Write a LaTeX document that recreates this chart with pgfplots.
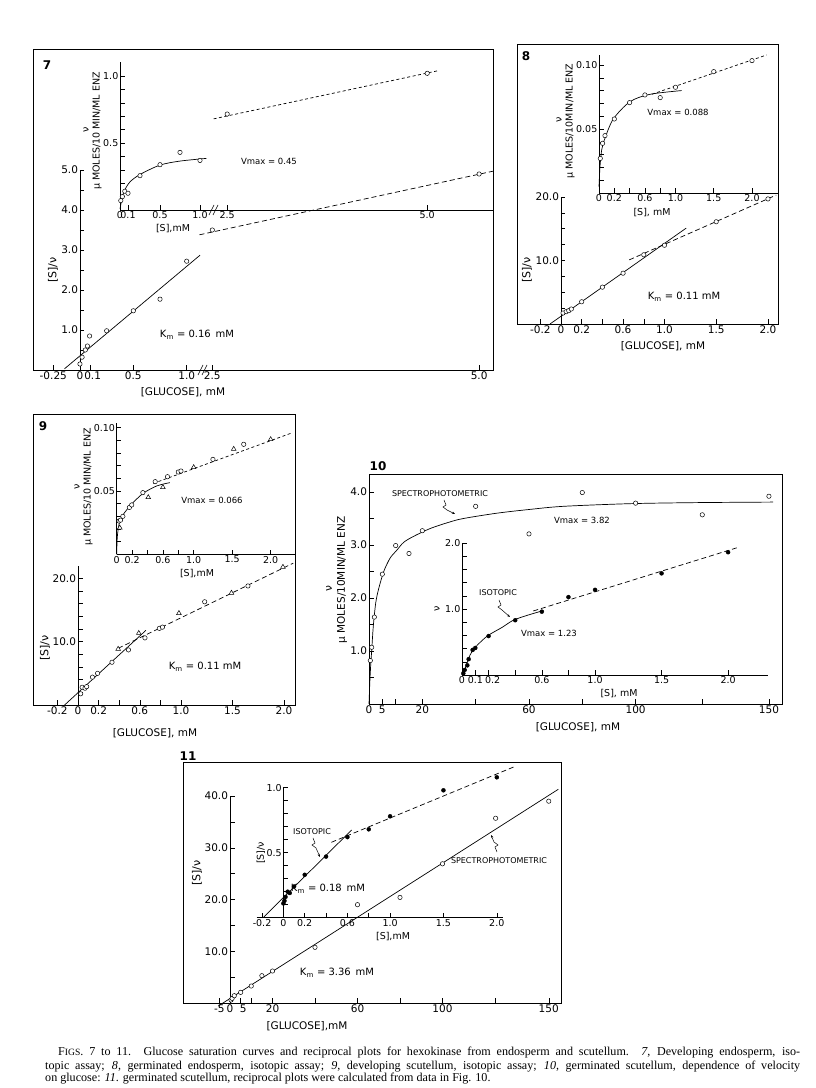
\documentclass[border=0pt]{standalone}
\usepackage{fontspec}
\setmainfont{DejaVu Sans}
\newfontfamily\capfont{Liberation Serif}
\usepackage{pgfplots}
\pgfplotsset{compat=1.18}
\usetikzlibrary{arrows.meta}
\newcommand\tlf{\fontsize{10.5}{11}\selectfont}
\newcommand\itf{\fontsize{9.5}{10}\selectfont}
\newcommand\axf{\fontsize{10.5}{11}\selectfont}
\newcommand\ilf{\fontsize{9.5}{10}\selectfont}
\newcommand\ylf{\fontsize{11}{12}\selectfont}
\newcommand\smf{\fontsize{8}{9}\selectfont}
\newcommand\vmf{\fontsize{8.5}{10}\selectfont}
\newcommand\kmf{\fontsize{10}{11}\selectfont}
\newcommand\numf{\fontsize{12}{12}\selectfont\bfseries}
\pgfplotsset{
  base/.style={scale only axis, clip=false, enlargelimits=false, anchor=south west,
    tick style={black, line width=0.5pt},
    major tick length=4.5pt, minor tick length=4.5pt,
    tick label style={font=\tlf, inner sep=1.8pt},
    hide obscured x ticks=false, hide obscured y ticks=false},
  inset/.style={tick label style={font=\itf, inner sep=1.5pt}},
  noarrow/.style={axis line style={-, line width=0.6pt}, tick align=inside},
  cut/.style={axis x line=bottom, axis y line=center},
  lft/.style={axis lines=left},
  pts/.style={only marks, mark=*, mark size=2.2pt, mark options={fill=white, draw=black, line width=0.5pt, solid}},
  dots/.style={only marks, mark=*, mark size=2pt, mark options={fill=black, draw=black, solid}},
  tris/.style={only marks, mark=triangle*, mark size=2.7pt, mark options={fill=white, draw=black, line width=0.5pt, solid}},
  fit/.style={no marks, line width=0.7pt, black},
  cfit/.style={no marks, line width=0.7pt, black, smooth},
  dfit/.style={no marks, line width=0.7pt, black, dash pattern=on 5pt off 3pt},
  sdfit/.style={no marks, line width=0.7pt, black, dash pattern=on 3pt off 2.5pt},
}
\begin{document}
\begin{tikzpicture}[x=1pt,y=1pt]
\path[use as bounding box] (0,0) rectangle (816,1088);

% ---------------- Panel 7 ----------------
\draw[line width=0.7pt] (33,718) rectangle (493,1039);
\begin{axis}[base, cut, noarrow, at={(33pt,718pt)}, width=460pt, height=200pt,
  xmin=-0.44, xmax=3.87, ymin=0, ymax=5,
  xtick={-0.25,0,0.1,0.5,1.0,1.24,3.74}, xticklabels={-0.25,0\hspace{2pt},\hspace{4pt}0.1,0.5,1.0,2.5,5.0},
  ytick={1,2,3,4,5}, yticklabels={1.0,2.0,3.0,4.0,5.0}, minor ytick={0.5,1.5,2.5,3.5,4.5}]
\addplot[fit] coordinates {(-0.145,0.03) (1.125,2.87)};
\addplot[dfit] coordinates {(1.12,3.38) (3.87,4.97)};
\addplot[pts] coordinates {(0,0.15) (0.02,0.32) (0.05,0.5) (0.07,0.6) (0.09,0.85) (0.25,0.98) (0.5,1.48) (0.75,1.77) (1.0,2.72) (1.24,3.5) (3.74,4.9)};
\end{axis}
\begin{axis}[base, inset, lft, noarrow, at={(120pt,878pt)}, width=373pt, height=148pt,
  xmin=0, xmax=4.6625, ymin=0, ymax=1.1045,
  xtick={0,0.1,0.5,1.0,1.34,3.84}, xticklabels={0\hspace{12pt},0.1\hspace{6pt},0.5,1.0,2.5,5.0},
  ytick={0.5,1.0}, yticklabels={0.5,1.0}, minor ytick={0.1,0.2,0.3,0.4,0.6,0.7,0.8,0.9}]
\addplot[cfit] coordinates {(0,0.01) (0.01,0.04) (0.03,0.1) (0.06,0.15) (0.125,0.21) (0.25,0.265) (0.5,0.335) (0.75,0.365) (1.08,0.385)};
\addplot[sdfit] coordinates {(1.17,0.68) (3.98,1.04)};
\addplot[pts] coordinates {(0.01,0.07) (0.03,0.10) (0.06,0.14) (0.10,0.125) (0.25,0.256) (0.5,0.338) (0.75,0.43) (1.0,0.37) (1.34,0.716) (3.84,1.02)};
\end{axis}
\draw[line width=0.6pt] (198,713) -- (203,723) (202,713) -- (207,723);
\draw[line width=0.6pt] (209,873) -- (214,883) (213,873) -- (218,883);
\node[font=\numf] at (47,1023) {7};
\node[font=\ylf, rotate=90] at (53,818) {[S]/ν};
\node[font=\axf] at (183,696) {[GLUCOSE], mM};
\node[font=\ilf, rotate=90] at (86,958) {ν};
\node[font=\ilf, rotate=90] at (97,957) {μ MOLES/10 MIN/ML ENZ};
\node[font=\ilf] at (173,859) {[S],mM};
\node[font=\vmf] at (269,927) {Vmax = 0.45};
\node[font=\kmf] at (197,753) {K\textsubscript{m} = 0.16\, mM};

% ---------------- Panel 8 ----------------
\draw[line width=0.7pt] (517,764) rectangle (778,1044);
\begin{axis}[base, cut, noarrow, at={(517pt,764pt)}, width=261pt, height=127pt,
  xmin=-0.425, xmax=2.097, ymin=0, ymax=20,
  xtick={-0.2,0,0.2,0.4,0.6,0.8,1.0,1.5,2.0}, xticklabels={-0.2,0,0.2,,0.6,,1.0,1.5,2.0},
  ytick={10,20}, yticklabels={10.0,20.0}, minor ytick={2.5,5,7.5,12.5,15,17.5}]
\addplot[fit] coordinates {(-0.106,0) (1.21,15.1)};
\addplot[dfit] coordinates {(0.66,10.1) (2.08,20.3)};
\addplot[pts] coordinates {(0.02,1.73) (0.05,1.94) (0.075,2.1) (0.1,2.36) (0.2,3.5) (0.4,5.8) (0.6,8.0) (0.8,10.9) (1.0,12.4) (1.5,16.1) (2.0,19.7)};
\end{axis}
\begin{axis}[base, inset, lft, noarrow, at={(599pt,895pt)}, width=179pt, height=138pt,
  xmin=0, xmax=2.34, ymin=0, ymax=0.1078,
  xtick={0,0.2,0.4,0.6,0.8,1.0,1.5,2.0}, xticklabels={0\hspace{12pt},0.2,,0.6,,1.0,1.5,2.0},
  ytick={0.05,0.1}, yticklabels={0.05,0.10}, minor ytick={0.01,0.02,0.03,0.04,0.06,0.07,0.08,0.09}]
\addplot[cfit] coordinates {(0,0.005) (0.013,0.0206) (0.035,0.0336) (0.078,0.0427) (0.187,0.0578) (0.405,0.0713) (0.667,0.0771) (1.08,0.080)};
\addplot[sdfit] coordinates {(0.69,0.0771) (2.19,0.1078)};
\addplot[pts] coordinates {(0.017,0.027) (0.047,0.0388) (0.078,0.0448) (0.2,0.0578) (0.4,0.0706) (0.6,0.0766) (0.8,0.0745) (1.0,0.0826) (1.5,0.0948) (2.0,0.1034)};
\end{axis}
\node[font=\numf] at (526,1032) {8};
\node[font=\ylf, rotate=90] at (527,818) {[S]/ν};
\node[font=\axf] at (663,742) {[GLUCOSE], mM};
\node[font=\ilf, rotate=90] at (559,968) {ν};
\node[font=\ilf, rotate=90] at (570,967) {μ MOLES/10MIN/ML ENZ};
\node[font=\ilf] at (652,875) {[S], mM};
\node[font=\vmf] at (678,976) {Vmax = 0.088};
\node[font=\kmf] at (684,791) {K\textsubscript{m} = 0.11 mM};

% ---------------- Panel 9 ----------------
\draw[line width=0.7pt] (33,383) rectangle (295,674);
\begin{axis}[base, cut, noarrow, at={(33pt,383pt)}, width=262pt, height=139.3pt,
  xmin=-0.437, xmax=2.107, ymin=0, ymax=22,
  xtick={-0.2,0,0.2,0.4,0.6,0.8,1.0,1.5,2.0}, xticklabels={-0.2,0,0.2,,0.6,,1.0,1.5,2.0},
  ytick={10,20}, yticklabels={10.0,20.0}, minor ytick={2,4,6,8,12,14,16,18}]
\addplot[fit] coordinates {(-0.13,0) (0.66,11.8)};
\addplot[dfit] coordinates {(0.39,8.95) (2.09,22.4)};
\addplot[pts] coordinates {(0.026,1.77) (0.04,2.8) (0.068,2.65) (0.084,2.9) (0.14,4.4) (0.19,5.0) (0.33,6.75) (0.49,8.7) (0.65,10.6) (0.79,12.1) (0.82,12.3) (1.23,16.3) (1.65,18.8)};
\addplot[tris] coordinates {(0.39,8.85) (0.59,11.35) (0.98,14.5) (1.49,17.7) (1.99,21.8)};
\end{axis}
\begin{axis}[base, inset, lft, noarrow, at={(116.7pt,533.7pt)}, width=178.3pt, height=131pt,
  xmin=0, xmax=2.316, ymin=0, ymax=0.1035,
  xtick={0,0.2,0.4,0.6,0.8,1.0,1.5,2.0}, xticklabels={0\hspace{12pt},0.2,,0.6,,1.0,1.5,2.0},
  ytick={0.05,0.1}, yticklabels={0.05,0.10}, minor ytick={0.01,0.02,0.03,0.04,0.06,0.07,0.08,0.09}]
\addplot[cfit] coordinates {(0,0) (0.008,0.0139) (0.034,0.0245) (0.087,0.0316) (0.195,0.0397) (0.345,0.0482) (0.52,0.054) (0.69,0.0566)};
\addplot[sdfit] coordinates {(0.475,0.056) (2.28,0.096)};
\addplot[pts] coordinates {(0.03,0.0263) (0.05,0.027) (0.08,0.030) (0.165,0.037) (0.195,0.039) (0.34,0.0487) (0.5,0.0574) (0.66,0.0613) (0.8,0.065) (0.835,0.0658) (1.25,0.075) (1.65,0.0869)};
\addplot[tris] coordinates {(0.04,0.021) (0.41,0.045) (0.6,0.053) (1.0,0.0687) (1.52,0.0832) (2.0,0.0908)};
\end{axis}
\node[font=\numf] at (43,662) {9};
\node[font=\ylf, rotate=90] at (45,440) {[S]/ν};
\node[font=\axf] at (155,355) {[GLUCOSE], mM};
\node[font=\ilf, rotate=90] at (77,601) {ν};
\node[font=\ilf, rotate=90] at (88,601) {μ MOLES/10 MIN/ML ENZ};
\node[font=\ilf] at (197,514) {[S],mM};
\node[font=\vmf] at (212,588) {Vmax = 0.066};
\node[font=\kmf] at (205,421) {K\textsubscript{m} = 0.11 mM};

% ---------------- Panel 10 ----------------
\begin{axis}[base, noarrow, at={(369pt,384pt)}, width=413pt, height=230pt,
  xmin=0, xmax=154.9, ymin=0, ymax=4.34, xtick pos=left, ytick pos=left,
  xtick={0,5,10,20,40,60,80,100,125,150}, xticklabels={0\hspace{8pt},5,,20,,60,,100,,150},
  ytick={1,2,3,4}, yticklabels={1.0,2.0,3.0,4.0}, minor ytick={0.5,1.5,2.5,3.5}]
\addplot[cfit] coordinates {(0,0) (0.3,0.4) (0.6,0.7) (1,1.0) (1.6,1.46) (2.5,1.9) (3.5,2.15) (5,2.42) (6,2.56) (8,2.76) (10.4,2.9) (13,3.05) (16.6,3.16) (22.9,3.31) (30,3.43) (35.4,3.5) (47.9,3.6) (60,3.67) (72.9,3.73) (97.9,3.78) (122.9,3.80) (151.6,3.81)};
\addplot[pts] coordinates {(0.5,0.82) (1,1.07) (2,1.64) (5,2.45) (10,2.99) (15,2.84) (20,3.27) (40,3.73) (60,3.21) (80,3.99) (100,3.79) (125,3.57) (150,3.92)};
\end{axis}
\begin{axis}[base, inset, lft, noarrow, at={(462pt,413pt)}, width=306pt, height=132pt,
  xmin=0, xmax=2.30, ymin=0, ymax=2.0,
  xtick={0,0.1,0.2,0.4,0.6,0.8,1.0,1.5,2.0}, xticklabels={0\hspace{12pt},0.1\hspace{8pt},\hspace{8pt}0.2,,0.6,,1.0,1.5,2.0},
  ytick={1,2}, yticklabels={1.0,2.0}, minor ytick={0.2,0.4,0.6,0.8,1.2,1.4,1.6,1.8}]
\addplot[cfit] coordinates {(0,0) (0.02,0.08) (0.06,0.30) (0.1,0.42) (0.19,0.59) (0.3,0.72) (0.386,0.83) (0.5,0.91) (0.61,0.975)};
\addplot[dfit] coordinates {(0.536,0.97) (2.07,1.93)};
\addplot[dots] coordinates {(0.01,0.025) (0.02,0.076) (0.04,0.146) (0.05,0.24) (0.08,0.38) (0.1,0.41) (0.2,0.59) (0.4,0.83) (0.6,0.96) (0.8,1.18) (1.0,1.29) (1.5,1.54) (2.0,1.86)};
\end{axis}
\node[font=\numf] at (378,622) {10};
\node[font=\axf, rotate=90] at (329,499) {ν};
\node[font=\axf, rotate=90] at (342,508) {μ MOLES/10MIN/ML ENZ};
\node[font=\axf] at (578,361) {[GLUCOSE], mM};
\node[font=\smf] at (440,594) {SPECTROPHOTOMETRIC};
\draw[line width=0.5pt,-{Stealth[length=3pt,width=2.4pt]}] (444,588) -- (446,583) -- (443,581) -- (447,578) -- (455,574);
\node[font=\vmf] at (582,568) {Vmax = 3.82};
\node[font=\ilf, rotate=90] at (437,479) {ν};
\node[font=\ilf] at (619,394) {[S], mM};
\node[font=\smf] at (498,495) {ISOTOPIC};
\draw[line width=0.5pt,-{Stealth[length=3pt,width=2.4pt]}] (499,488) -- (501,483) -- (498,481) -- (502,478) -- (510,471);
\node[font=\vmf] at (549,455) {Vmax = 1.23};

% ---------------- Panel 11 ----------------
\draw[line width=0.7pt] (183,85) rectangle (561,326);
\begin{axis}[base, cut, noarrow, at={(183pt,85pt)}, width=378pt, height=207pt,
  xmin=-22.12, xmax=155.76, ymin=0, ymax=40,
  xtick={-5,0,5,10,20,40,60,80,100,125,150}, xticklabels={-5\hspace{10pt},0,\hspace{5pt}5,,20,,60,,100,,150},
  ytick={10,20,30,40}, yticklabels={10.0,20.0,30.0,40.0}, minor ytick={5,15,25,35}]
\addplot[fit] coordinates {(-5.6,-0.6) (154.5,41.3)};
\addplot[pts] coordinates {(0.5,0.58) (1,0.9) (2,1.41) (5,2.05) (10,3.28) (15,5.28) (20,6.18) (40,10.76) (60,19.0) (80,20.4) (100,26.9) (125,35.7) (150,39.0)};
\end{axis}
\begin{axis}[base, inset, cut, noarrow, at={(256.7pt,170.3pt)}, width=246.6pt, height=130pt,
  xmin=-0.25, xmax=2.061, ymin=0, ymax=1.0,
  xtick={-0.2,0,0.2,0.4,0.6,0.8,1.0,1.5,2.0}, xticklabels={-0.2,0,0.2,,0.6,,1.0,1.5,2.0},
  ytick={0.5,1.0}, yticklabels={0.5,1.0}, minor ytick={0.1,0.2,0.3,0.4,0.6,0.7,0.8,0.9}]
\addplot[fit] coordinates {(-0.19,0) (0.64,0.675)};
\addplot[dfit] coordinates {(0.45,0.58) (2.16,1.16)};
\addplot[dots] coordinates {(0,0.11) (0.01,0.13) (0.02,0.16) (0.04,0.2) (0.06,0.19) (0.1,0.24) (0.2,0.33) (0.4,0.47) (0.6,0.62) (0.8,0.68) (1.0,0.78) (1.5,0.98) (2.0,1.08)};
\end{axis}
\node[font=\numf] at (188,332) {11};
\node[font=\ylf, rotate=90] at (197,215) {[S]/ν};
\node[font=\axf] at (307,62) {[GLUCOSE],mM};
\node[font=\kmf] at (337,115) {K\textsubscript{m} = 3.36\, mM};
\node[font=\smf] at (499,227) {SPECTROPHOTOMETRIC};
\draw[line width=0.5pt,-{Stealth[length=3pt,width=2.4pt]}] (497,236) -- (495,241) -- (498,243) -- (494,246) -- (491,253);
\node[font=\ilf, rotate=90] at (261,235) {[S]/ν};
\node[font=\ilf] at (393,151) {[S],mM};
\node[font=\smf] at (312,256) {ISOTOPIC};
\draw[line width=0.5pt,-{Stealth[length=3pt,width=2.4pt]}] (313,250) -- (315,245) -- (312,243) -- (316,240) -- (320,231);
\node[font=\kmf] at (328,199) {K\textsubscript{m} = 0.18\, mM};

% ---------------- Caption ----------------
\node[anchor=base west, inner sep=0pt] at (58,32) {\capfont\fontsize{12.1}{13}\selectfont\makebox[742pt][s]{F{\fontsize{9.6}{10}\selectfont IGS}. 7 to 11. Glucose saturation curves and reciprocal plots for hexokinase from endosperm and scutellum. \textit{7}, Developing endosperm, iso-}};
\node[anchor=base west, inner sep=0pt] at (45,19) {\capfont\fontsize{12.1}{13}\selectfont\makebox[755pt][s]{topic assay; \textit{8}, germinated endosperm, isotopic assay; \textit{9}, developing scutellum, isotopic assay; \textit{10}, germinated scutellum, dependence of velocity}};
\node[anchor=base west, inner sep=0pt] at (45,6) {\capfont\fontsize{12.1}{13}\selectfont on glucose: \textit{11}. germinated scutellum, reciprocal plots were calculated from data in Fig. 10.};
\end{tikzpicture}
\end{document}
